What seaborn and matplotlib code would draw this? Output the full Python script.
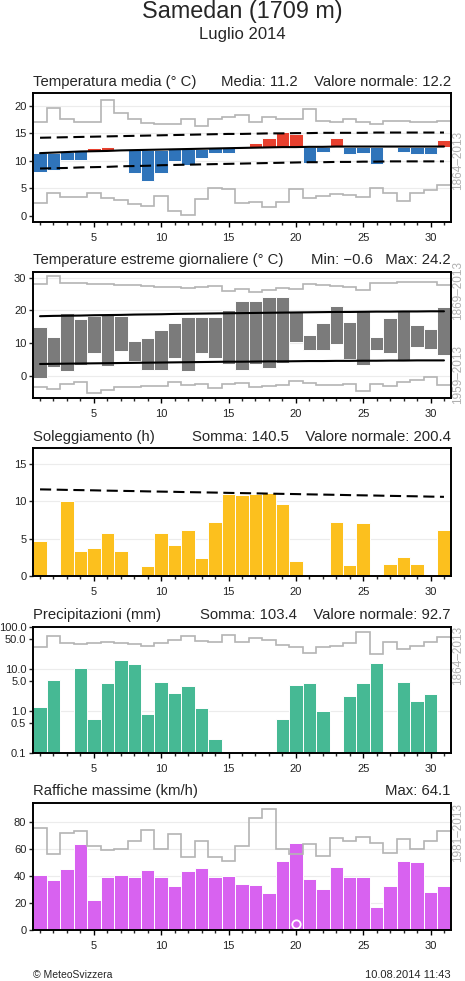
import numpy as np
import pandas as pd
import matplotlib
matplotlib.use("Agg")
import matplotlib.pyplot as plt
import seaborn as sns

# ---------------- data ----------------
days = list(range(1, 32))

# Temperatura media
temp_mean = [8.0, 8.3, 10.1, 10.1, 12.4, 12.5, 12.0, 7.7, 6.4, 7.8, 10.0, 9.3, 10.5, 11.5, 11.5, 12.4,
             13.3, 14.1, 15.3, 14.8, 9.6, 11.6, 14.1, 11.2, 11.5, 9.5, 12.5, 11.6, 11.2, 11.2, 13.8]
temp_norm = [11.4, 11.5, 11.6, 11.7, 11.75, 11.8, 11.9, 11.95, 12.0, 12.05, 12.1, 12.15, 12.2, 12.25, 12.3,
             12.35, 12.4, 12.45, 12.5, 12.5, 12.55, 12.55, 12.6, 12.6, 12.6, 12.6, 12.6, 12.6, 12.6, 12.6, 12.6]
temp_norm_hi = [14.2, 14.25, 14.3, 14.35, 14.4, 14.45, 14.5, 14.55, 14.6, 14.65, 14.7, 14.75, 14.8, 14.85,
                14.9, 14.9, 14.95, 15.0, 15.0, 15.05, 15.05, 15.1, 15.1, 15.1, 15.1, 15.15, 15.15, 15.15,
                15.15, 15.15, 15.15]
temp_norm_lo = [8.6, 8.65, 8.7, 8.8, 8.85, 8.9, 9.0, 9.05, 9.1, 9.2, 9.25, 9.3, 9.35, 9.4, 9.45, 9.5, 9.55,
                9.6, 9.65, 9.7, 9.75, 9.75, 9.8, 9.8, 9.85, 9.85, 9.9, 9.9, 9.9, 9.9, 9.9]
temp_rec_hi = [17.1, 19.7, 17.7, 17.0, 17.1, 21.0, 18.8, 17.7, 16.8, 16.7, 16.7, 17.7, 16.3, 17.7, 17.9,
               18.3, 17.0, 17.9, 17.7, 17.6, 19.4, 17.2, 17.0, 17.7, 17.1, 16.7, 17.2, 17.2, 17.1, 17.1, 17.2]
temp_rec_lo = [2.4, 4.2, 3.5, 3.5, 4.2, 3.2, 2.8, 2.1, 1.8, 3.6, 0.9, 0.2, 3.0, 5.0, 4.8, 2.4, 2.5, 1.6,
               2.5, 4.8, 3.3, 3.6, 3.9, 3.7, 3.5, 5.0, 4.2, 2.7, 4.1, 4.7, 5.6]

# Temperature estreme giornaliere
tmax = [15.0, 12.0, 19.3, 17.2, 18.4, 19.0, 18.2, 10.7, 11.5, 14.1, 16.1, 17.9, 17.9, 17.9, 20.1, 22.7,
        22.7, 24.0, 24.2, 19.8, 12.5, 16.0, 21.2, 16.5, 19.8, 11.7, 17.8, 19.8, 15.4, 14.4, 21.0]
tmin = [-0.6, 2.8, 1.5, 3.3, 7.1, 3.1, 7.6, 4.6, 1.7, 1.8, 5.3, 1.5, 7.1, 5.5, 3.6, 1.7, 3.5, 2.5, 4.0,
        10.3, 8.0, 8.0, 9.6, 5.0, 3.3, 8.0, 6.9, 4.8, 8.9, 8.1, 6.4]
tmax_norm = [18.2, 18.3, 18.35, 18.4, 18.5, 18.55, 18.6, 18.7, 18.75, 18.8, 18.9, 18.95, 19.0, 19.05, 19.1,
             19.15, 19.2, 19.25, 19.3, 19.35, 19.4, 19.45, 19.5, 19.5, 19.55, 19.6, 19.6, 19.65, 19.65,
             19.7, 19.7]
tmin_norm = [3.6, 3.65, 3.7, 3.75, 3.8, 3.85, 3.9, 3.95, 4.0, 4.05, 4.1, 4.15, 4.2, 4.25, 4.3, 4.3, 4.35,
             4.4, 4.4, 4.45, 4.5, 4.5, 4.55, 4.55, 4.6, 4.6, 4.65, 4.65, 4.7, 4.7, 4.7]
tmax_rec = [28.1, 30.6, 28.4, 28.2, 28.0, 28.0, 27.8, 27.6, 27.4, 27.2, 27.0, 26.8, 27.2, 27.5, 26.0,
            26.6, 25.7, 26.2, 26.8, 26.5, 28.0, 27.8, 27.5, 27.2, 26.2, 28.5, 28.2, 28.6, 28.6, 28.8, 27.8]
tmin_rec = [-3.4, -3.9, -2.6, -2.0, -5.4, -4.4, -3.4, -3.4, -3.2, -3.0, -2.0, -2.8, -2.5, -3.8, -2.5,
            -2.3, -3.5, -3.2, -2.8, -1.5, -2.3, -2.8, -2.8, -2.5, -4.8, -2.5, -3.2, -1.8, -1.2, -0.5, -2.8]

# Soleggiamento
sun = [4.7, 0.0, 10.0, 3.3, 3.7, 5.7, 3.4, 0.0, 1.3, 5.7, 4.1, 6.1, 2.4, 7.2, 11.0, 10.9, 11.0, 11.1,
       9.7, 2.0, 0.0, 0.0, 7.2, 1.5, 7.1, 0.0, 1.6, 2.5, 1.6, 0.0, 6.2]
sun_norm = [11.6, 11.57, 11.53, 11.5, 11.47, 11.43, 11.4, 11.37, 11.33, 11.3, 11.27, 11.23, 11.2, 11.17,
            11.13, 11.1, 11.07, 11.03, 11.0, 10.97, 10.93, 10.9, 10.87, 10.83, 10.8, 10.77, 10.73, 10.7,
            10.67, 10.63, 10.6]

# Precipitazioni
precip = [1.25, 5.3, 0.0, 10.5, 0.64, 4.5, 16.0, 13.0, 0.85, 4.9, 2.7, 3.9, 1.16, 0.21, 0.0, 0.0, 0.0,
          0.0, 0.65, 4.1, 4.6, 0.96, 0.0, 2.3, 4.6, 13.5, 0.0, 4.8, 1.7, 2.5, 0.0]
precip_rec = [33.7, 61, 42, 39, 40.5, 42.6, 40.5, 39, 35.5, 40.5, 47.5, 61, 46.7, 43.4, 63.6, 42.6, 54,
              49.3, 37, 33.7, 24.3, 33.7, 35.5, 42, 76, 22.2, 44, 29, 35, 44, 56]

# Raffiche massime
gust = [40.6, 37.4, 44.8, 63.3, 22.6, 39.6, 41.1, 38.9, 44.3, 38.9, 32.5, 44.0, 45.8, 39.6, 39.8, 33.8,
        33.3, 27.8, 50.8, 64.1, 37.8, 30.2, 46.4, 39.3, 39.3, 16.8, 33.0, 51.3, 50.3, 28.0, 32.3]
gust_rec = [75, 56, 72, 73, 62.3, 59, 60, 66, 74, 60, 71, 54, 66, 54, 51, 62, 83, 89.5, 60, 56, 63.5, 55,
            68, 66, 69, 64, 57, 67, 60, 66, 73]

# ---------------- style ----------------
sns.set_style("white")
plt.rcParams["font.family"] = ["Liberation Sans", "DejaVu Sans"]
plt.rcParams["lines.scale_dashes"] = False

W, H = 465, 981
fig = plt.figure(figsize=(W / 100, H / 100), dpi=100)
L, R = 33.3, 450.7

REC = "#b4b4b4"
GRID = "#ececec"
edges = np.arange(0.5, 32.5, 1.0)


def positive(vals):
    # days without any amount draw no bar
    return [v if v > 0 else np.nan for v in vals]


def add_ax(top, bottom):
    return fig.add_axes([L / W, 1 - bottom / H, (R - L) / W, (bottom - top) / H])


def style(ax, ylim, yticks, grid_at, fmt=None):
    ax.set_xlim(0.5, 31.5)
    ax.set_ylim(*ylim)
    ax.set_xticks([5, 10, 15, 20, 25, 30])
    ax.set_xticklabels(["5", "10", "15", "20", "25", "30"])
    ax.set_xticks(days, minor=True)
    ax.set_yticks(yticks)
    if fmt:
        ax.set_yticklabels([fmt % v for v in yticks])
    ax.yaxis.set_minor_locator(matplotlib.ticker.NullLocator())
    for s in ax.spines.values():
        s.set_linewidth(1.4)
        s.set_color("black")
        s.set_visible(True)
        s.set_zorder(6)
    ax.tick_params(axis="x", which="major", direction="out", length=3.8, width=1.0, pad=4,
                   labelsize=8, bottom=True, colors="black", labelcolor="#222222")
    ax.tick_params(axis="x", which="minor", direction="out", length=2.2, width=1.0, bottom=True)
    ax.tick_params(axis="y", which="major", direction="out", length=3.0, width=1.0, pad=2,
                   labelsize=8, left=True, labelcolor="#222222")
    ax.set_xlabel("")
    ax.set_ylabel("")
    ax.grid(False)
    for g in grid_at:
        ax.axhline(g, color=GRID, lw=0.8, zorder=0)
    if ax.get_legend() is not None:
        ax.get_legend().remove()


def titles(ax, left, right):
    ax.annotate(left, xy=(0, 1), xycoords="axes fraction", xytext=(0, 5.4),
                textcoords="offset points", ha="left", va="baseline", fontsize=10.7)
    ax.annotate(right, xy=(1, 1), xycoords="axes fraction", xytext=(0, 5.4),
                textcoords="offset points", ha="right", va="baseline", fontsize=10.7)


def side_label(y_px, txt):
    fig.text(458 / W, 1 - y_px / H, txt, rotation=90, ha="center", va="center",
             color="#b0b0b0", fontsize=8.5)


# ---------------- panel 1 ----------------
ax1 = add_ax(93.3, 222.3)
tm = np.array(temp_mean)
tn = np.array(temp_norm)
cols = np.where(tm > tn, "#e8402e", "#2f74ba")
ax1.stairs(temp_rec_hi, edges, baseline=None, color=REC, lw=1.2, zorder=2)
ax1.stairs(temp_rec_lo, edges, baseline=None, color=REC, lw=1.2, zorder=2)
ax1.bar(days, tm - tn, bottom=tn, width=1.0, color=cols, edgecolor="white", linewidth=0.7, zorder=3)
sns.lineplot(x=days, y=temp_norm, ax=ax1, color="black", lw=1.5, zorder=4)
sns.lineplot(x=days, y=temp_norm_hi, ax=ax1, color="black", lw=1.5, linestyle=(0, (8, 4)), zorder=4)
sns.lineplot(x=days, y=temp_norm_lo, ax=ax1, color="black", lw=1.5, linestyle=(0, (8, 4)), zorder=4)
style(ax1, (-1.2, 22.3), [0, 5, 10, 15, 20], [5, 10, 15, 20])
titles(ax1, "Temperatura media (° C)", "Media: 11.2    Valore normale: 12.2")
side_label(160, "1864–2013")

# ---------------- panel 2 ----------------
ax2 = add_ax(271.7, 397.7)
tx = np.array(tmax)
tn2 = np.array(tmin)
ax2.stairs(tmax_rec, edges, baseline=None, color=REC, lw=1.2, zorder=2)
ax2.stairs(tmin_rec, edges, baseline=None, color=REC, lw=1.2, zorder=2)
ax2.bar(days, tx - tn2, bottom=tn2, width=1.0, color="#7b7b7b", edgecolor="white", linewidth=0.7, zorder=3)
sns.lineplot(x=days, y=tmax_norm, ax=ax2, color="black", lw=1.5, zorder=4)
sns.lineplot(x=days, y=tmin_norm, ax=ax2, color="black", lw=1.5, zorder=4)
style(ax2, (-6.7, 31.8), [0, 10, 20, 30], [0, 10, 20, 30])
titles(ax2, "Temperature estreme giornaliere (° C)", "Min: −0.6   Max: 24.2")
side_label(290, "1869–2013")
side_label(375, "1959–2013")

# ---------------- panel 3 ----------------
ax3 = add_ax(448.3, 576.0)
sns.barplot(x=days, y=positive(sun), ax=ax3, native_scale=True, width=1.0, color="#fcc01e",
            saturation=1, edgecolor="white", linewidth=0.7, zorder=3)
sns.lineplot(x=days, y=sun_norm, ax=ax3, color="black", lw=1.5, linestyle=(0, (8, 4)), zorder=4)
style(ax3, (0, 17.1), [0, 5, 10, 15], [5, 10, 15])
titles(ax3, "Soleggiamento (h)", "Somma: 140.5    Valore normale: 200.4")

# ---------------- panel 4 ----------------
ax4 = add_ax(626.7, 752.7)
sns.barplot(x=days, y=positive(precip), ax=ax4, native_scale=True, width=1.0, color="#46b994",
            saturation=1, edgecolor="white", linewidth=0.7, zorder=3)
ax4.set_yscale("log")
ax4.stairs(precip_rec, edges, baseline=None, color=REC, lw=1.2, zorder=4)
style(ax4, (0.1, 100), [0.1, 0.5, 1.0, 5.0, 10.0, 50.0, 100.0], [1, 10], fmt="%.1f")
titles(ax4, "Precipitazioni (mm)", "Somma: 103.4    Valore normale: 92.7")
side_label(655, "1864–2013")

# ---------------- panel 5 ----------------
ax5 = add_ax(802.7, 930.3)
sns.barplot(x=days, y=gust, ax=ax5, native_scale=True, width=1.0, color="#d862f0",
            saturation=1, edgecolor="white", linewidth=0.7, zorder=3)
ax5.stairs(gust_rec, edges, baseline=None, color=REC, lw=1.2, zorder=4)
imax = int(np.argmax(gust))
ax5.plot([days[imax]], [4.5], marker="o", ms=6, mfc="none", mec="white", mew=1.3, zorder=5)
style(ax5, (0, 94), [0, 20, 40, 60, 80], [20, 40, 60, 80])
titles(ax5, "Raffiche massime (km/h)", "Max: 64.1")
side_label(833, "1981–2013")

# ---------------- header / footer ----------------
fig.text(242 / W, 1 - 17.7 / H, "Samedan (1709 m)", ha="center", va="baseline", fontsize=16.8)
fig.text(242 / W, 1 - 39 / H, "Luglio 2014", ha="center", va="baseline", fontsize=12)
fig.text(33 / W, 1 - 978 / H, "© MeteoSvizzera", ha="left", va="baseline", fontsize=7.5)
fig.text(450.7 / W, 1 - 978 / H, "10.08.2014 11:43", ha="right", va="baseline", fontsize=8)

fig.savefig("out.png", dpi=100)
